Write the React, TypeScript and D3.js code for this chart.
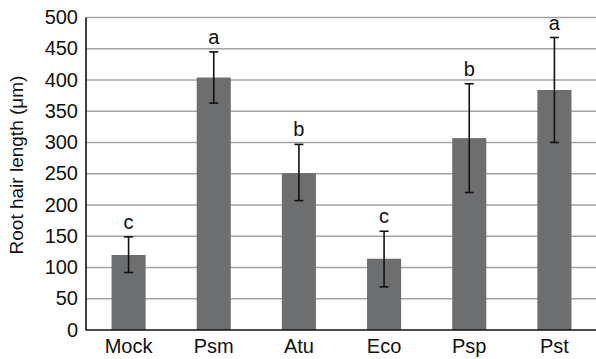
import { useEffect, useRef } from 'react';
import * as d3 from 'd3';

const categories = ['Mock', 'Psm', 'Atu', 'Eco', 'Psp', 'Pst'];
const means = [120, 404, 251, 114, 307, 384];
const errLow = [92, 363, 207, 69, 220, 300];
const errHigh = [149, 445, 297, 158, 394, 468];
const groups = ['c', 'a', 'b', 'c', 'b', 'a'];
const yTicks = [0, 50, 100, 150, 200, 250, 300, 350, 400, 450, 500];

const App = () => {
  const svgRef = useRef<SVGSVGElement>(null);

  useEffect(() => {
    if (!svgRef.current) return;
    const root = d3.select(svgRef.current);
    root.selectAll('*').remove();

    const left = 86;
    const right = 597;
    const top = 17.5;
    const bottom = 330;
    const font = 'Liberation Sans, Arial, Helvetica, sans-serif';

    const x = d3.scaleBand<string>().domain(categories).range([left, right]).paddingInner(0.6).paddingOuter(0.3);
    const y = d3.scaleLinear().domain([0, 500]).range([bottom, top]);

    // Gridlines
    root
      .append('g')
      .selectAll('line')
      .data(yTicks.filter(t => t > 0))
      .enter()
      .append('line')
      .attr('x1', left)
      .attr('x2', right)
      .attr('y1', d => y(d))
      .attr('y2', d => y(d))
      .attr('stroke', '#a3a3a3')
      .attr('stroke-width', 1.6);

    // Tick labels
    root
      .append('g')
      .selectAll('text')
      .data(yTicks)
      .enter()
      .append('text')
      .attr('x', left - 8)
      .attr('y', d => y(d) + 6.5)
      .attr('text-anchor', 'end')
      .attr('font-family', font)
      .attr('font-size', 20)
      .attr('fill', '#111')
      .text(d => d);

    // Bars
    root
      .append('g')
      .selectAll('rect')
      .data(categories)
      .enter()
      .append('rect')
      .attr('x', d => x(d) as number)
      .attr('width', x.bandwidth())
      .attr('y', (_, i) => y(means[i]))
      .attr('height', (_, i) => bottom - y(means[i]))
      .attr('fill', '#6d6e70');

    // Error bars
    const eb = root.append('g').attr('stroke', '#111').attr('stroke-width', 1.6);
    categories.forEach((c, i) => {
      const cx = (x(c) as number) + x.bandwidth() / 2;
      eb.append('line').attr('x1', cx).attr('x2', cx).attr('y1', y(errLow[i])).attr('y2', y(errHigh[i]));
      eb.append('line').attr('x1', cx - 4.5).attr('x2', cx + 4.5).attr('y1', y(errLow[i])).attr('y2', y(errLow[i]));
      eb.append('line').attr('x1', cx - 4.5).attr('x2', cx + 4.5).attr('y1', y(errHigh[i])).attr('y2', y(errHigh[i]));
    });

    // Group letters
    root
      .append('g')
      .selectAll('text')
      .data(categories)
      .enter()
      .append('text')
      .attr('x', d => (x(d) as number) + x.bandwidth() / 2)
      .attr('y', (_, i) => y(errHigh[i]) - 8)
      .attr('text-anchor', 'middle')
      .attr('font-family', font)
      .attr('font-size', 20)
      .attr('fill', '#111')
      .text((_, i) => groups[i]);

    // Axes lines
    root.append('line').attr('x1', left).attr('x2', left).attr('y1', top).attr('y2', bottom + 0.5).attr('stroke', '#111').attr('stroke-width', 1.6);
    root.append('line').attr('x1', left).attr('x2', right).attr('y1', bottom).attr('y2', bottom).attr('stroke', '#111').attr('stroke-width', 1.6);

    // Category labels
    root
      .append('g')
      .selectAll('text')
      .data(categories)
      .enter()
      .append('text')
      .attr('x', d => (x(d) as number) + x.bandwidth() / 2)
      .attr('y', 353)
      .attr('text-anchor', 'middle')
      .attr('font-family', font)
      .attr('font-size', 20)
      .attr('fill', '#111')
      .text(d => d);

    // Y label
    root
      .append('text')
      .attr('transform', 'rotate(-90)')
      .attr('x', -165)
      .attr('y', 23)
      .attr('text-anchor', 'middle')
      .attr('font-family', font)
      .attr('font-size', 19)
      .attr('fill', '#111')
      .text('Root hair length (\u03bcm)');
  }, []);

  return (
    <svg
      ref={svgRef}
      width={596}
      height={359}
      style={{ position: 'absolute', left: 0, top: 0, background: '#fff' }}
    />
  );
};

export default App;
